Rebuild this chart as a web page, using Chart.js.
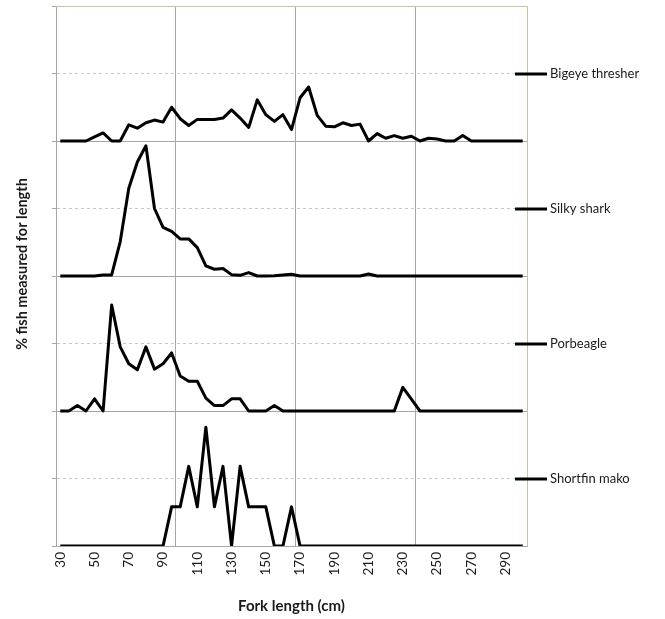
<!DOCTYPE html>
<html>
<head>
<meta charset="utf-8">
<script src="https://cdn.jsdelivr.net/npm/chart.js@4"></script>
<style>
  html, body { margin: 0; padding: 0; background: #fff; }
  #wrap { width: 665px; height: 619px; }
</style>
</head>
<body>
<div id="wrap"><canvas id="chart" width="665" height="619"></canvas></div>
<script>
// fork length classes (cm)
const lengths = [30, 35, 40, 45, 50, 55, 60, 65, 70, 75, 80, 85, 90, 95, 100, 105, 110, 115, 120, 125,
  130, 135, 140, 145, 150, 155, 160, 165, 170, 175, 180, 185, 190, 195, 200, 205, 210, 215, 220, 225,
  230, 235, 240, 245, 250, 255, 260, 265, 270, 275, 280, 285, 290, 295, 300]
const tickLabels = [30, 50, 70, 90, 110, 130, 150, 170, 190, 210, 230, 250, 270, 290]
const gridLengths = [97.5, 167.5, 237.5]

const speciesNames = ['Bigeye thresher', 'Silky shark', 'Porbeagle', 'Shortfin mako']

const bigeye = [0, 0, 0, 0, 0.06, 0.12, 0, 0, 0.24, 0.19, 0.27, 0.31, 0.28, 0.5, 0.33, 0.23, 0.32, 0.32, 0.32, 0.34,
  0.46, 0.34, 0.2, 0.61, 0.39, 0.29, 0.39, 0.17, 0.64, 0.8, 0.38, 0.22, 0.21, 0.27, 0.23, 0.25, 0, 0.11, 0.04, 0.08,
  0.04, 0.07, 0, 0.04, 0.03, 0, 0, 0.08, 0, 0, 0, 0, 0, 0, 0]
const silky = [0, 0, 0, 0, 0, 0.015, 0.015, 0.51, 1.3, 1.69, 1.93, 1.0, 0.72, 0.66, 0.55, 0.55, 0.42, 0.15, 0.1, 0.11,
  0.02, 0.01, 0.05, 0, 0, 0.005, 0.015, 0.025, 0, 0, 0, 0, 0, 0, 0, 0, 0.03, 0, 0, 0,
  0, 0, 0, 0, 0, 0, 0, 0, 0, 0, 0, 0, 0, 0, 0]
const porbeagle = [0, 0, 0.08, 0, 0.18, 0, 1.57, 0.95, 0.7, 0.61, 0.95, 0.62, 0.7, 0.86, 0.52, 0.44, 0.44, 0.19, 0.08, 0.08,
  0.18, 0.18, 0, 0, 0, 0.08, 0, 0, 0, 0, 0, 0, 0, 0, 0, 0, 0, 0, 0, 0,
  0.35, 0.175, 0, 0, 0, 0, 0, 0, 0, 0, 0, 0, 0, 0, 0]
const mako = [0, 0, 0, 0, 0, 0, 0, 0, 0, 0, 0, 0, 0, 0.58, 0.58, 1.18, 0.58, 1.76, 0.58, 1.18,
  0, 1.18, 0.58, 0.58, 0.58, 0, 0, 0.58, 0, 0, 0, 0, 0, 0, 0, 0, 0, 0, 0, 0,
  0, 0, 0, 0, 0, 0, 0, 0, 0, 0, 0, 0, 0, 0, 0]

const seriesValues = [bigeye, silky, porbeagle, mako]
// each panel sits on its own band of the y axis
const offsets = [6, 4, 2, 0]

const FONT = 'Lato, "Open Sans", sans-serif'
const khaki = '#c9c1a0'
const yTitle = '% fish measured for length'

const datasets = seriesValues.map((vals, s) => ({
  label: speciesNames[s],
  data: vals.map((v, i) => ({ x: lengths[i], y: v + offsets[s] })),
  borderColor: '#000',
  borderWidth: 3,
  borderJoinStyle: 'round',
  pointRadius: 0,
  tension: 0,
  fill: false,
}))

const frameAndLegend = {
  id: 'frameAndLegend',
  beforeDatasetsDraw(chart) {
    const { ctx, chartArea } = chart
    ctx.save()
    ctx.strokeStyle = khaki
    ctx.lineWidth = 1
    ctx.beginPath()
    ctx.moveTo(chartArea.left, chartArea.top + 0.5)
    ctx.lineTo(chartArea.right + 0.5, chartArea.top + 0.5)
    ctx.lineTo(chartArea.right + 0.5, chartArea.bottom)
    ctx.stroke()
    ctx.restore()
  },
  afterDraw(chart) {
    const { ctx } = chart
    const y = chart.scales.y
    ctx.save()
    ctx.font = '13px ' + FONT
    ctx.fillStyle = '#1a1a1a'
    ctx.textBaseline = 'middle'
    speciesNames.forEach((name, s) => {
      const py = Math.round(y.getPixelForValue(offsets[s] + 1))
      ctx.strokeStyle = '#000'
      ctx.lineWidth = 3
      ctx.beginPath()
      ctx.moveTo(515, py)
      ctx.lineTo(547, py)
      ctx.stroke()
      ctx.fillText(name, 550, py)
    })
    // y axis title
    ctx.translate(22, 264)
    ctx.rotate(-Math.PI / 2)
    ctx.textAlign = 'center'
    ctx.font = 'bold 14.5px ' + FONT
    ctx.fillText(yTitle, 0, 0)
    ctx.restore()
  }
}

new Chart(document.getElementById('chart'), {
  type: 'line',
  data: { datasets },
  options: {
    responsive: false,
    animation: false,
    layout: { padding: { left: 0, right: 138, top: 6, bottom: 0 } },
    plugins: { legend: { display: false }, tooltip: { enabled: false } },
    scales: {
      x: {
        type: 'linear',
        min: 27.5,
        max: 302.5,
        afterBuildTicks: (scale) => { scale.ticks = tickLabels.map(v => ({ value: v })) },
        afterFit: (scale) => { scale.height = 73 },
        grid: { display: false, drawTicks: false },
        border: { color: '#a6a6a6' },
        ticks: {
          autoSkip: false,
          maxRotation: 90,
          minRotation: 90,
          padding: 6,
          color: '#1a1a1a',
          font: { family: FONT, size: 13.5 },
          callback: (v) => String(v),
        },
        title: {
          display: true,
          text: 'Fork length (cm)',
          color: '#1a1a1a',
          font: { family: FONT, size: 15, weight: 'bold' },
          padding: { top: 0, bottom: 4 },
        },
      },
      x2: {
        type: 'linear',
        position: 'top',
        min: 27.5,
        max: 302.5,
        afterBuildTicks: (scale) => { scale.ticks = gridLengths.map(v => ({ value: v })) },
        afterFit: (scale) => { scale.height = 0 },
        ticks: { display: false },
        grid: { color: '#a6a6a6', drawTicks: false },
        border: { display: false },
      },
      y: {
        min: 0,
        max: 8,
        afterBuildTicks: (scale) => { scale.ticks = [0, 1, 2, 3, 4, 5, 6, 7, 8].map(v => ({ value: v })) },
        afterFit: (scale) => { scale.width = 56 },
        ticks: { display: false },
        grid: {
          color: (c) => c.tick && c.tick.value === 8 ? khaki : (c.tick && c.tick.value % 2 ? '#c8c8c8' : '#a6a6a6'),
          tickColor: '#a6a6a6',
          tickLength: 4,
        },
        border: {
          color: '#a6a6a6',
          dash: (c) => c.tick && c.tick.value % 2 ? [3, 3] : [],
        },
      },
    },
  },
  plugins: [frameAndLegend],
})
</script>
</body>
</html>
